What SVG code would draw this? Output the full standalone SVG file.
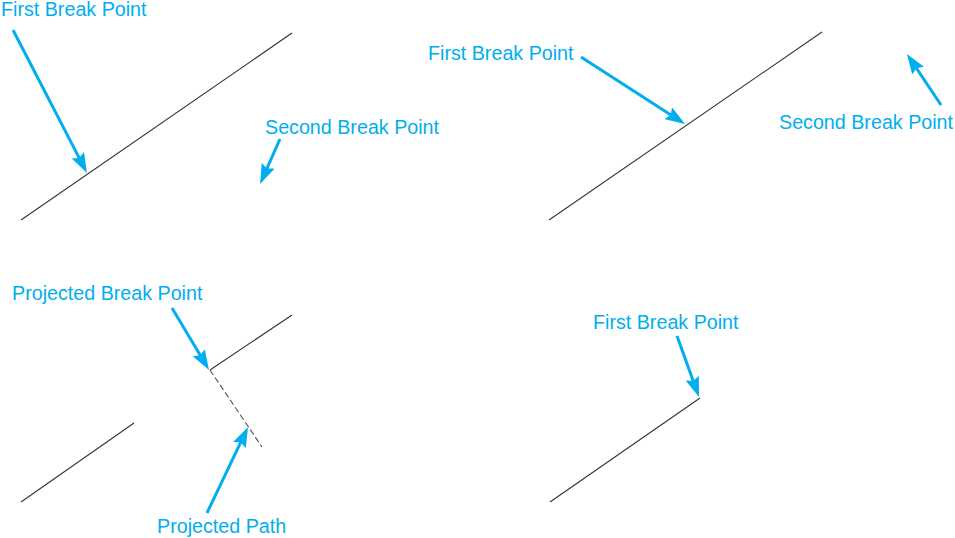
<svg xmlns="http://www.w3.org/2000/svg" width="955" height="538" viewBox="0 0 955 538">
<style>
.lbl{font-family:"Liberation Sans",Arial,sans-serif;font-size:19.7px;fill:#00AEEF}
.ln{stroke:#333;stroke-width:1.1;fill:none}
.dash{stroke:#555;stroke-width:1.1;fill:none;stroke-dasharray:6 3}
.arr{stroke:#00AEEF;stroke-width:3;fill:none;marker-end:url(#ah)}
</style>
<defs>
<marker id="ah" viewBox="0 0 20 14" refX="12" refY="7" markerWidth="20" markerHeight="14" markerUnits="userSpaceOnUse" orient="auto">
<path d="M0,0 L20,7 L0,14 L3,7 z" fill="#00AEEF"/>
</marker>
</defs>
<rect width="955" height="538" fill="#fff"/>
<g id="panel1">
<line class="ln" x1="21" y1="220" x2="292" y2="33"/>
<text class="lbl" x="1" y="16">First Break Point</text>
<text class="lbl" x="265" y="134">Second Break Point</text>
</g>
<g id="panel2">
<line class="ln" x1="549" y1="220" x2="822" y2="32"/>
<text class="lbl" x="428" y="60">First Break Point</text>
<text class="lbl" x="779" y="129">Second Break Point</text>
</g>
<g id="panel3">
<line class="ln" x1="210" y1="370" x2="292" y2="315"/>
<line class="dash" x1="210" y1="370" x2="262" y2="447"/>
<line class="ln" x1="21" y1="502" x2="134" y2="423"/>
<text class="lbl" x="12" y="300">Projected Break Point</text>
<text class="lbl" x="157" y="533">Projected Path</text>
</g>
<g id="panel4">
<line class="ln" x1="550" y1="502" x2="700" y2="398"/>
<text class="lbl" x="593" y="329">First Break Point</text>
</g>
<g id="connectors">
<line class="arr" x1="13" y1="30" x2="83.3" y2="165.9"/>
<line class="arr" x1="280" y1="139" x2="263.3" y2="176.7"/>
<line class="arr" x1="581" y1="57" x2="678.3" y2="119.7"/>
<line class="arr" x1="941" y1="105" x2="911.4" y2="60.7"/>
<line class="arr" x1="172" y1="308" x2="204.9" y2="363.1"/>
<line class="arr" x1="207" y1="513" x2="244.6" y2="434.2"/>
<line class="arr" x1="677" y1="336" x2="696.3" y2="389.5"/>
</g>
</svg>
